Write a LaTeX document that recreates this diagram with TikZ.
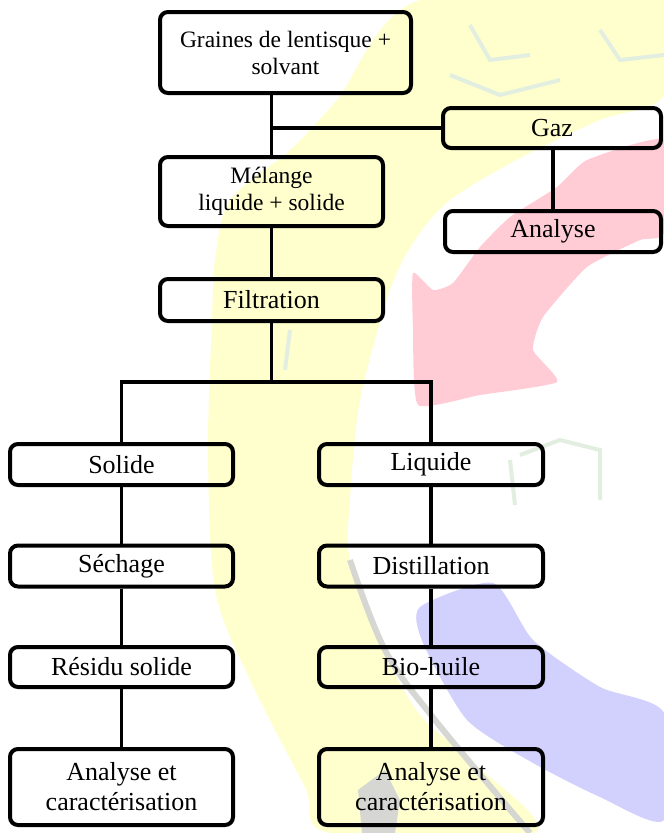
\documentclass[tikz,border=0pt]{standalone}
\usepackage{fontspec}
\setmainfont{Liberation Serif}
\definecolor{wmyellow}{HTML}{FFFFCE}
\definecolor{wmpink}{HTML}{FFCCD6}
\definecolor{wmblue}{HTML}{D2D0FC}
\definecolor{wmgreen}{HTML}{E2EEE0}
\definecolor{wmgray}{HTML}{D6D6D2}
\tikzset{
  box/.style={draw, line width=4pt, rounded corners=8pt, inner sep=0pt, align=center,
    font=\fontsize{26}{30}\selectfont},
  smallbox/.style={box, font=\fontsize{23.5}{27}\selectfont},
  link/.style={line width=3.4pt},
}
\begin{document}
\begin{tikzpicture}[x=1pt,y=-1pt]
\useasboundingbox (0,0) rectangle (664,833);
% watermark
\fill[wmyellow] plot[smooth cycle, tension=0.5] coordinates {(420,0) (337,100) (290,150) (230,200) (215,260) (212,320) (208,450) (215,590) (250,680) (305,787) (330,833) (535,833) (470,760) (420,715) (383,650) (350,560) (350,500) (360,400) (390,290) (415,240) (450,200) (520,158) (600,120) (664,95) (664,0)};
\fill[wmyellow] (420,0) rectangle (664,40);
\fill[wmpink] plot[smooth cycle, tension=0.3] coordinates {(664,140) (587,160) (557,187) (510,217) (480,247) (453,283) (433,290) (413,273) (413,330) (418,405) (480,395) (557,382) (533,350) (543,317) (587,267) (640,240) (664,233)};
\fill[wmblue] plot[smooth cycle, tension=0.4] coordinates {(420,607) (493,583) (533,640) (600,687) (664,713) (664,820) (600,797) (533,763) (467,720) (423,643)};
\draw[wmgray, line width=6pt] plot[smooth, tension=0.6] coordinates {(350,560) (385,650) (435,720) (530,833)};
\fill[wmgray] (358,790) -- (385,770) -- (400,800) -- (395,833) -- (362,833) -- cycle;
\begin{scope}[wmgreen, line width=4pt]
  \draw (470,25) -- (490,60) -- (530,55);
  \draw (450,75) -- (500,95) -- (560,80);
  \draw (600,30) -- (620,60) -- (664,55);
  \draw (520,455) -- (560,440) -- (600,450) -- (600,500);
  \draw (510,460) -- (515,505);
  \draw (290,330) -- (285,370);
\end{scope}
% boxes
\node[smallbox, minimum width=251pt, minimum height=81pt] (gr) at (285.5,52.5) {Graines de lentisque +\\solvant};
\node[box, minimum width=218pt, minimum height=40pt] (gaz) at (552,128) {Gaz};
\node[box, minimum width=216pt, minimum height=41pt] (an) at (553,231.5) {Analyse};
\node[smallbox, minimum width=223pt, minimum height=69pt] (mel) at (271.5,191.5) {Mélange\\liquide + solide};
\node[box, minimum width=223pt, minimum height=42pt] (fil) at (271.5,300) {Filtration};
\node[box, minimum width=223pt, minimum height=41pt] (sol) at (121.5,464.5) {Solide};
\node[box, minimum width=224pt, minimum height=41pt] (liq) at (431,464.5) {Liquide};
\node[box, minimum width=223pt, minimum height=41pt] (sec) at (121.5,566) {Séchage};
\node[box, minimum width=224pt, minimum height=41pt] (dis) at (431,566) {Distillation};
\node[box, minimum width=223pt, minimum height=40pt] (res) at (121.5,667) {Résidu solide};
\node[box, minimum width=224pt, minimum height=40pt] (bio) at (431,667) {Bio-huile};
\node[box, minimum width=223pt, minimum height=76pt] (ac1) at (121.5,787) {Analyse et\\caractérisation};
\node[box, minimum width=224pt, minimum height=76pt] (ac2) at (431,787) {Analyse et\\caractérisation};
\coordinate (split) at (271.5,382);
% connectors
\draw[link] (mel.north) -- (mel.north |- gr.south);
\draw[link] (gaz.west) -- (gaz.west -| mel.north);
\draw[link] (an.north) -- (an.north |- gaz.south);
\draw[link] (mel.south) -- (fil.north);
\draw[link] (fil.south) -- (split);
\draw[link] (sol.north) |- (split) -| (liq.north);
\draw[link] (sol.south) -- (sec.north);
\draw[link] (sec.south) -- (res.north);
\draw[link] (res.south) -- (ac1.north);
\draw[link] (liq.south) -- (dis.north);
\draw[link] (dis.south) -- (bio.north);
\draw[link] (bio.south) -- (ac2.north);
\end{tikzpicture}
\end{document}
